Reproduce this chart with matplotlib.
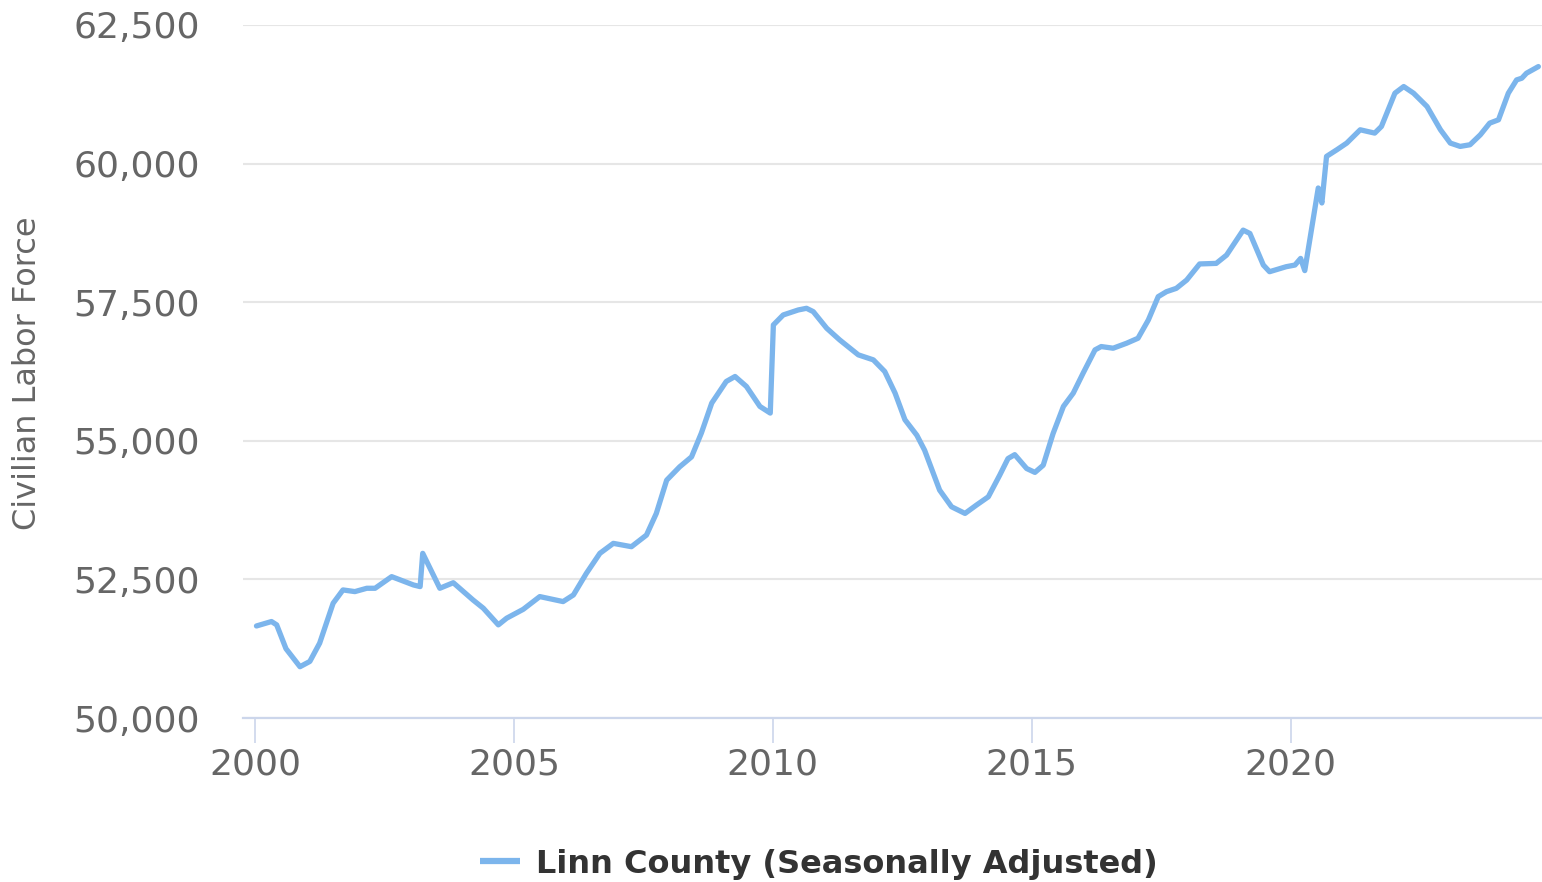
import matplotlib

matplotlib.use("Agg")
import matplotlib.pyplot as plt
from matplotlib.ticker import FuncFormatter

# Decimal-year positions and labour-force levels
years = [
    2000.03, 2000.32, 2000.42, 2000.60, 2000.87, 2001.06, 2001.25, 2001.51, 2001.70, 2001.93,
    2002.16, 2002.32, 2002.64, 2003.06, 2003.19, 2003.24, 2003.57, 2003.83, 2004.21, 2004.41,
    2004.70, 2004.86, 2005.18, 2005.50, 2005.95, 2006.15, 2006.40, 2006.66, 2006.92, 2007.27,
    2007.56, 2007.75, 2007.95, 2008.20, 2008.43, 2008.62, 2008.82, 2009.10, 2009.27, 2009.49,
    2009.75, 2009.95, 2010.01, 2010.20, 2010.49, 2010.65, 2010.78, 2011.04, 2011.29, 2011.65,
    2011.94, 2012.16, 2012.36, 2012.55, 2012.78, 2012.93, 2013.22, 2013.45, 2013.71, 2013.93,
    2014.16, 2014.38, 2014.54, 2014.67, 2014.90, 2015.06, 2015.22, 2015.41, 2015.61, 2015.80,
    2015.99, 2016.22, 2016.34, 2016.57, 2016.83, 2017.05, 2017.25, 2017.44, 2017.60, 2017.79,
    2017.99, 2018.24, 2018.56, 2018.76, 2019.08, 2019.21, 2019.47, 2019.59, 2019.91, 2020.08,
    2020.19, 2020.27, 2020.53, 2020.60, 2020.69, 2020.89, 2021.08, 2021.34, 2021.62, 2021.75,
    2022.01, 2022.18, 2022.37, 2022.63, 2022.89, 2023.08, 2023.27, 2023.46, 2023.66, 2023.84,
    2024.01, 2024.20, 2024.36, 2024.46, 2024.55, 2024.78,
]
labor_force = [
    51660, 51740, 51680, 51250, 50925, 51020, 51350, 52070, 52310, 52280,
    52340, 52340, 52550, 52400, 52370, 52970, 52340, 52440, 52130, 51980,
    51680, 51800, 51960, 52190, 52100, 52220, 52610, 52970, 53150, 53090,
    53300, 53690, 54290, 54530, 54710, 55140, 55680, 56070, 56160, 55980,
    55620, 55500, 57090, 57270, 57360, 57390, 57330, 57030, 56820, 56550,
    56460, 56250, 55860, 55380, 55100, 54830, 54110, 53810, 53690, 53840,
    53990, 54380, 54680, 54750, 54500, 54430, 54560, 55130, 55620, 55860,
    56220, 56640, 56700, 56670, 56760, 56850, 57180, 57600, 57690, 57750,
    57900, 58190, 58200, 58350, 58800, 58740, 58170, 58050, 58140, 58170,
    58290, 58070, 59560, 59290, 60130, 60250, 60370, 60610, 60550, 60670,
    61270, 61390, 61270, 61030, 60610, 60370, 60310, 60340, 60520, 60730,
    60790, 61270, 61510, 61540, 61630, 61750,
]
x_ticks = [2000, 2005, 2010, 2015, 2020]
y_ticks = [50000, 52500, 55000, 57500, 60000, 62500]
series_name = "Linn County (Seasonally Adjusted)"
y_label = "Civilian Labor Force"

LINE = "#7cb5ec"
GRID = "#e6e6e6"
AXIS = "#ccd6eb"
TEXT = "#666666"

fig = plt.figure(figsize=(15.42, 8.82), dpi=100, facecolor="white")
ax = fig.add_axes([243 / 1542, 1 - 718 / 882, 1 - 243 / 1542, (718 - 25) / 882])

ax.plot(years, labor_force, color=LINE, lw=3.8, solid_joinstyle="round",
        solid_capstyle="round", label=series_name, zorder=3, clip_on=False)

ax.set_xlim(1999.77, 2024.85)
ax.set_ylim(y_ticks[0], y_ticks[-1])
ax.set_xticks(x_ticks)
ax.set_yticks(y_ticks)
ax.yaxis.set_major_formatter(FuncFormatter(lambda v, _: f"{v:,.0f}"))

ax.grid(axis="y", color=GRID, lw=1.5, zorder=0)
for side in ("top", "right", "left"):
    ax.spines[side].set_visible(False)
ax.spines["bottom"].set_color(AXIS)
ax.spines["bottom"].set_linewidth(1.6)
ax.spines["bottom"].set_zorder(4)

ax.tick_params(axis="x", length=18, width=1.2, color=AXIS, pad=3,
               labelsize=26, labelcolor=TEXT)
ax.tick_params(axis="y", length=0, pad=31, labelsize=26, labelcolor=TEXT)

fig.text(28 / 1542, 1 - 373 / 882, y_label, rotation=90, ha="center", va="center",
         fontsize=23, color=TEXT)

leg = fig.legend(loc="center", bbox_to_anchor=(819 / 1542, 1 - 864 / 882), frameon=False,
                 handlelength=1.25, handletextpad=0.5,
                 prop={"size": 23, "weight": "bold"}, labelcolor="#333333")
for h in leg.get_lines():
    h.set_linewidth(4.5)
    h.set_solid_capstyle("butt")

fig.savefig("out.png", dpi=100, facecolor="white")
